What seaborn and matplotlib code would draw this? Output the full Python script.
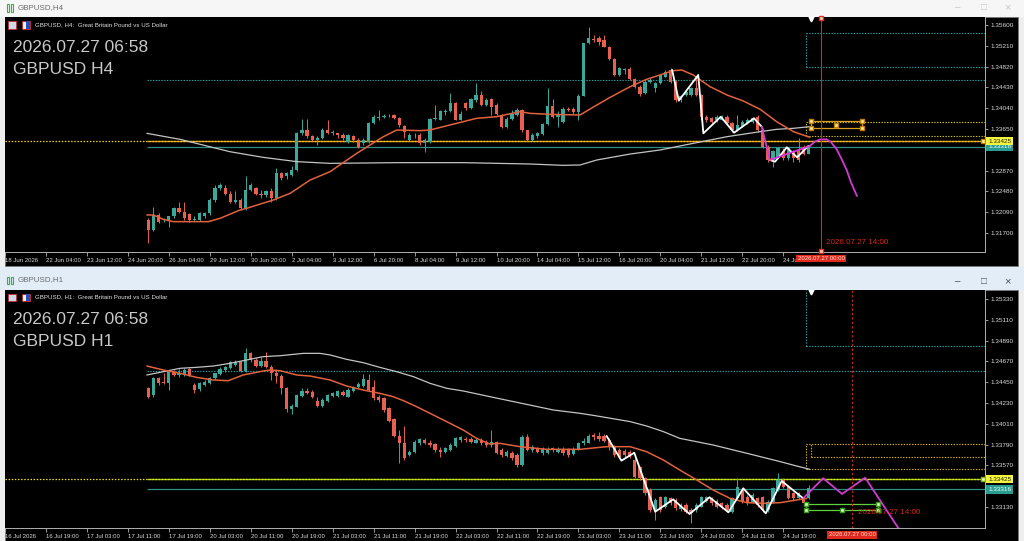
import numpy as np
import pandas as pd
import matplotlib
matplotlib.use("Agg")
import matplotlib.pyplot as plt
from matplotlib.patches import Rectangle
from matplotlib.transforms import Bbox, TransformedBbox
import seaborn as sns

# ---------------- DATA ----------------
# H4 candles (upper window)
h4_open = [1.3194,1.3176,1.3204,1.3194,1.3194,1.3201,1.3216,1.3210,1.3206,1.3194,
           1.3194,1.3201,1.3207,1.3232,1.3254,1.3254,1.3244,1.3229,1.3232,1.3216,
           1.3251,1.3254,1.3244,1.3241,1.3248,1.3235,1.3282,1.3276,1.3279,1.3288,
           1.3357,1.3364,1.3352,1.3344,1.3348,1.3364,1.3358,1.3357,1.3354,1.3341,
           1.3351,1.3344,1.3338,1.3341,1.3376,1.3385,1.3388,1.3389,1.3391,1.3385,
           1.3371,1.3344,1.3353,1.3354,1.3338,1.3341,1.3384,1.3382,1.3396,1.3398,
           1.3413,1.3382,1.3413,1.3404,1.3419,1.3429,1.3410,1.3421,1.3410,1.3391,
           1.3369,1.3383,1.3391,1.3401,1.3363,1.3344,1.3351,1.3356,1.3374,1.3408,
           1.3388,1.3379,1.3403,1.3402,1.3396,1.3427,1.3526,1.3533,1.3535,1.3531,
           1.3519,1.3496,1.3466,1.3476,1.3477,1.3458,1.3444,1.3432,1.3454,1.3441,
           1.3451,1.3463,1.3476,1.3454,1.3419,1.3429,1.3429,1.3441,1.3429,1.3388,
           1.3385,1.3382,1.3382,1.3388,1.3376,1.3363,1.3371,1.3376,1.3379,1.3387,
           1.3363,1.3332,1.3307,1.3313,1.3323,1.3310,1.3323,1.3326,1.3332,1.3319]
h4_high = [1.3198,1.3218,1.3207,1.3199,1.3202,1.3218,1.3229,1.3229,1.3208,1.3201,
           1.3210,1.3210,1.3235,1.3260,1.3263,1.3260,1.3248,1.3248,1.3235,1.3276,
           1.3263,1.3257,1.3251,1.3251,1.3254,1.3291,1.3285,1.3285,1.3296,1.3360,
           1.3383,1.3383,1.3354,1.3351,1.3366,1.3381,1.3363,1.3358,1.3357,1.3356,
           1.3354,1.3348,1.3348,1.3379,1.3391,1.3401,1.3394,1.3393,1.3393,1.3388,
           1.3373,1.3357,1.3357,1.3357,1.3348,1.3385,1.3410,1.3401,1.3402,1.3432,
           1.3416,1.3398,1.3416,1.3424,1.3451,1.3437,1.3423,1.3423,1.3413,1.3394,
           1.3388,1.3401,1.3404,1.3402,1.3364,1.3357,1.3360,1.3377,1.3441,1.3421,
           1.3398,1.3406,1.3407,1.3406,1.3431,1.3527,1.3557,1.3541,1.3539,1.3541,
           1.3521,1.3498,1.3482,1.3479,1.3482,1.3460,1.3448,1.3457,1.3460,1.3454,
           1.3469,1.3476,1.3479,1.3457,1.3429,1.3438,1.3444,1.3463,1.3431,1.3391,
           1.3388,1.3391,1.3391,1.3391,1.3379,1.3391,1.3382,1.3385,1.3388,1.3391,
           1.3366,1.3335,1.3326,1.3332,1.3329,1.3332,1.3326,1.3348,1.3335,1.3335]
h4_low = [1.3152,1.3174,1.3189,1.3191,1.3182,1.3199,1.3208,1.3194,1.3191,1.3193,
          1.3193,1.3198,1.3204,1.3229,1.3251,1.3241,1.3227,1.3226,1.3213,1.3214,
          1.3248,1.3241,1.3235,1.3238,1.3229,1.3232,1.3269,1.3271,1.3276,1.3287,
          1.3354,1.3348,1.3343,1.3335,1.3346,1.3356,1.3354,1.3348,1.3344,1.3339,
          1.3341,1.3329,1.3335,1.3339,1.3374,1.3382,1.3385,1.3387,1.3383,1.3369,
          1.3348,1.3343,1.3348,1.3335,1.3321,1.3339,1.3382,1.3381,1.3391,1.3396,
          1.3381,1.3381,1.3401,1.3402,1.3416,1.3408,1.3408,1.3391,1.3391,1.3366,
          1.3366,1.3382,1.3389,1.3360,1.3343,1.3343,1.3349,1.3354,1.3373,1.3385,
          1.3369,1.3377,1.3398,1.3393,1.3382,1.3426,1.3524,1.3529,1.3523,1.3518,
          1.3494,1.3464,1.3464,1.3469,1.3456,1.3441,1.3427,1.3431,1.3451,1.3435,
          1.3449,1.3462,1.3452,1.3416,1.3416,1.3427,1.3427,1.3427,1.3382,1.3379,
          1.3376,1.3379,1.3381,1.3373,1.3360,1.3361,1.3369,1.3374,1.3377,1.3360,
          1.3329,1.3304,1.3294,1.3310,1.3307,1.3307,1.3304,1.3304,1.3316,1.3318]
h4_close = [1.3176,1.3204,1.3191,1.3196,1.3201,1.3216,1.3210,1.3198,1.3194,1.3196,
            1.3207,1.3207,1.3232,1.3254,1.3260,1.3244,1.3229,1.3232,1.3216,1.3251,
            1.3260,1.3244,1.3241,1.3248,1.3235,1.3282,1.3273,1.3282,1.3288,1.3357,
            1.3364,1.3351,1.3344,1.3348,1.3364,1.3357,1.3359,1.3354,1.3348,1.3354,
            1.3344,1.3332,1.3344,1.3376,1.3388,1.3388,1.3389,1.3390,1.3385,1.3373,
            1.3360,1.3354,1.3354,1.3338,1.3344,1.3383,1.3386,1.3398,1.3399,1.3413,
            1.3382,1.3394,1.3404,1.3421,1.3429,1.3410,1.3419,1.3407,1.3394,1.3369,
            1.3383,1.3394,1.3401,1.3363,1.3344,1.3354,1.3357,1.3374,1.3408,1.3388,
            1.3394,1.3402,1.3401,1.3396,1.3427,1.3526,1.3535,1.3532,1.3529,1.3519,
            1.3496,1.3466,1.3479,1.3478,1.3458,1.3444,1.3431,1.3454,1.3457,1.3451,
            1.3466,1.3471,1.3454,1.3419,1.3426,1.3435,1.3441,1.3429,1.3388,1.3382,
            1.3379,1.3388,1.3388,1.3376,1.3363,1.3373,1.3379,1.3382,1.3385,1.3363,
            1.3332,1.3307,1.3323,1.3329,1.3310,1.3329,1.3310,1.3307,1.3319,1.3332]

# H1 candles (lower window)
h1_open = [1.34385,1.34314,1.34491,1.34448,1.34438,1.34561,1.34526,1.34537,1.34586,1.34420,
           1.34374,1.34420,1.34438,1.34491,1.34537,1.34579,1.34596,1.34632,1.34667,1.34572,
           1.34755,1.34685,1.34621,1.34678,1.34614,1.34551,1.34515,1.34385,1.34163,1.34191,
           1.34304,1.34360,1.34350,1.34255,1.34198,1.34255,1.34304,1.34304,1.34350,1.34297,
           1.34360,1.34396,1.34409,1.34473,1.34403,1.34297,1.34279,1.34173,1.34057,1.33881,
           1.33810,1.33680,1.33715,1.33803,1.33839,1.33810,1.33796,1.33733,1.33715,1.33733,
           1.33775,1.33839,1.33853,1.33846,1.33810,1.33839,1.33821,1.33786,1.33821,1.33733,
           1.33669,1.33705,1.33680,1.33574,1.33874,1.33733,1.33751,1.33698,1.33705,1.33751,
           1.33715,1.33740,1.33733,1.33691,1.33740,1.33803,1.33810,1.33892,1.33881,1.33881,
           1.33839,1.33768,1.33733,1.33726,1.33715,1.33627,1.33550,1.33433,1.33310,1.33098,
           1.33232,1.33134,1.33222,1.33204,1.33105,1.33151,1.33098,1.33098,1.33134,1.33197,
           1.33211,1.33197,1.33169,1.33151,1.33081,1.33222,1.33310,1.33239,1.33186,1.33222,
           1.33232,1.33098,1.33186,1.33310,1.33416,1.33345,1.33275,1.33222,1.33222,1.33222]
h1_high = [1.34403,1.34508,1.34508,1.34544,1.34579,1.34579,1.34586,1.34596,1.34596,1.34438,
           1.34456,1.34473,1.34508,1.34551,1.34614,1.34621,1.34678,1.34685,1.34678,1.34808,
           1.34773,1.34702,1.34720,1.34773,1.34632,1.34579,1.34537,1.34396,1.34219,1.34325,
           1.34385,1.34385,1.34367,1.34297,1.34279,1.34325,1.34350,1.34367,1.34367,1.34385,
           1.34409,1.34456,1.34537,1.34537,1.34473,1.34314,1.34297,1.34191,1.34068,1.33944,
           1.33987,1.33733,1.33839,1.33856,1.33856,1.33839,1.33810,1.33761,1.33768,1.33803,
           1.33874,1.33881,1.33867,1.33867,1.33856,1.33856,1.33839,1.33944,1.33832,1.33751,
           1.33733,1.33726,1.33698,1.33892,1.33902,1.33786,1.33768,1.33761,1.33761,1.33768,
           1.33761,1.33761,1.33751,1.33761,1.33821,1.33856,1.33902,1.33909,1.33927,1.33902,
           1.33856,1.33786,1.33751,1.33740,1.33733,1.33645,1.33564,1.33451,1.33327,1.33222,
           1.33246,1.33246,1.33239,1.33222,1.33169,1.33169,1.33116,1.33169,1.33246,1.33246,
           1.33232,1.33211,1.33186,1.33169,1.33239,1.33433,1.33327,1.33257,1.33275,1.33239,
           1.33246,1.33204,1.33345,1.33486,1.33433,1.33363,1.33292,1.33292,1.33246,1.33363]
h1_low = [1.34279,1.34297,1.34420,1.34431,1.34367,1.34515,1.34508,1.34515,1.34515,1.34332,
          1.34360,1.34409,1.34427,1.34480,1.34526,1.34561,1.34586,1.34621,1.34561,1.34561,
          1.34667,1.34607,1.34607,1.34596,1.34473,1.34438,1.34325,1.34138,1.34114,1.34184,
          1.34297,1.34325,1.34279,1.34191,1.34191,1.34244,1.34297,1.34297,1.34304,1.34290,
          1.34350,1.34385,1.34403,1.34360,1.34262,1.34244,1.34138,1.34032,1.33874,1.33592,
          1.33627,1.33669,1.33705,1.33786,1.33796,1.33768,1.33715,1.33655,1.33705,1.33726,
          1.33768,1.33821,1.33821,1.33810,1.33803,1.33786,1.33768,1.33768,1.33687,1.33662,
          1.33655,1.33627,1.33557,1.33564,1.33726,1.33715,1.33698,1.33680,1.33691,1.33715,
          1.33705,1.33680,1.33662,1.33680,1.33733,1.33786,1.33803,1.33839,1.33832,1.33821,
          1.33733,1.33662,1.33645,1.33662,1.33645,1.33433,1.33416,1.33257,1.33081,1.32993,
          1.33081,1.33116,1.33151,1.33098,1.33091,1.33070,1.32957,1.33081,1.33127,1.33186,
          1.33151,1.33116,1.33105,1.33081,1.33070,1.33211,1.33176,1.33151,1.33169,1.33134,
          1.33081,1.33081,1.33176,1.33303,1.33327,1.33211,1.33204,1.33211,1.33162,1.33211]
h1_close = [1.34297,1.34491,1.34438,1.34438,1.34561,1.34526,1.34544,1.34579,1.34526,1.34367,
            1.34438,1.34456,1.34498,1.34544,1.34586,1.34607,1.34660,1.34667,1.34572,1.34755,
            1.34685,1.34621,1.34678,1.34614,1.34544,1.34515,1.34385,1.34163,1.34198,1.34314,
            1.34360,1.34339,1.34297,1.34198,1.34262,1.34314,1.34339,1.34357,1.34314,1.34367,
            1.34396,1.34431,1.34480,1.34367,1.34279,1.34262,1.34156,1.34043,1.33881,1.33803,
            1.33645,1.33715,1.33821,1.33846,1.33810,1.33786,1.33733,1.33715,1.33750,1.33786,
            1.33856,1.33867,1.33839,1.33821,1.33839,1.33803,1.33786,1.33821,1.33698,1.33680,
            1.33715,1.33645,1.33574,1.33874,1.33733,1.33768,1.33715,1.33740,1.33740,1.33733,
            1.33740,1.33698,1.33680,1.33740,1.33810,1.33832,1.33881,1.33867,1.33846,1.33832,
            1.33768,1.33680,1.33662,1.33680,1.33662,1.33451,1.33433,1.33275,1.33098,1.33204,
            1.33098,1.33232,1.33169,1.33116,1.33151,1.33081,1.33063,1.33151,1.33232,1.33232,
            1.33169,1.33134,1.33127,1.33098,1.33222,1.33338,1.33186,1.33169,1.33257,1.33151,
            1.33098,1.33186,1.33327,1.33416,1.33345,1.33222,1.33222,1.33275,1.33169,1.33327]

# moving averages and zigzags (bar index, price)
h4_ma_fast_x = [27.7,29.0,30.9,32.9,39.7,42.0,45.9,47.2,52.4,55.7,59.6,63.5,68.7,71.3,73.9,76.5,81.1,83.0,89.5,92.1,96.0,100.6,102.5,106.4,112.3,115.6,118.2,122.1,125.3,127.9,130.5,132.2,134.4,137.7,141.0,144.2,147.5,150.7,154.0,157.2]
h4_ma_fast_y = [1.32038,1.32038,1.31956,1.31913,1.31913,1.31975,1.32131,1.32163,1.32319,1.32444,1.32694,1.32850,1.33194,1.33350,1.33506,1.33631,1.33619,1.33631,1.33788,1.33850,1.33881,1.33975,1.33944,1.33925,1.33913,1.34100,1.34244,1.34444,1.34581,1.34663,1.34744,1.34756,1.34663,1.34444,1.34288,1.34175,1.34019,1.33788,1.33600,1.33494]
h4_ma_slow_x = [27.7,34.2,43.9,50.4,57.0,63.5,76.5,89.5,102.5,109.0,112.3,115.6,122.1,127.9,134.4,141.0,147.5,150.7,154.0,157.2]
h4_ma_slow_y = [1.33569,1.33456,1.33225,1.33119,1.33038,1.33006,1.33019,1.33019,1.32994,1.32969,1.32975,1.33069,1.33181,1.33256,1.33381,1.33506,1.33600,1.33644,1.33663,1.33694]
h4_zz1_x = [130.3,131.6,135.4,136.4,139.8,142.4,146.3,147.8]
h4_zz1_y = [1.34756,1.34181,1.34663,1.33569,1.33881,1.33581,1.33851,1.33693]
h4_zz2_x = [149.4,150.4,152.7,154.7,156.9]
h4_zz2_y = [1.33069,1.33037,1.33307,1.33119,1.33331]
h4_proj1_x = [147.8,149.4,157.2]
h4_proj1_y = [1.33693,1.33069,1.33331]
h4_proj2_x = [157.2,158.2,159.2,160.4,161.3,162.4,163.3,164.4,165.2,166.4]
h4_proj2_y = [1.33331,1.33416,1.33453,1.33457,1.33406,1.33275,1.33106,1.32881,1.32656,1.32394]

h1_ma_fast_x = [27.7,30.9,34.2,37.4,40.7,43.6,46.5,50.4,51.8,53.7,57.0,59.6,63.5,66.7,70.0,73.2,75.8,77.8,80.4,83.0,86.3,89.5,92.1,94.7,96.7,100.6,105.8,112.3,117.5,122.1,125.3,128.6,131.8,135.1,138.3,141.6,144.9,148.1,151.4,154.6,156.6]
h1_ma_fast_y = [1.34621,1.34579,1.34544,1.34501,1.34473,1.34466,1.34526,1.34568,1.34579,1.34572,1.34526,1.34515,1.34473,1.34410,1.34367,1.34332,1.34297,1.34255,1.34191,1.34121,1.34032,1.33944,1.33856,1.33796,1.33803,1.33768,1.33740,1.33740,1.33768,1.33768,1.33715,1.33627,1.33521,1.33416,1.33310,1.33222,1.33176,1.33169,1.33176,1.33204,1.33222]
h1_ma_slow_x = [27.7,30.9,34.2,37.4,40.7,43.9,47.2,50.4,53.7,57.0,58.3,61.5,63.5,66.7,70.0,73.2,76.5,79.8,83.0,86.3,89.5,94.7,107.1,112.3,115.6,122.1,125.3,128.6,131.8,138.3,144.9,151.4,154.6,157.2]
h1_ma_slow_y = [1.34526,1.34561,1.34597,1.34607,1.34621,1.34649,1.34685,1.34720,1.34730,1.34748,1.34755,1.34755,1.34738,1.34692,1.34656,1.34607,1.34561,1.34508,1.34438,1.34385,1.34357,1.34297,1.34156,1.34121,1.34093,1.34033,1.33987,1.33927,1.33856,1.33786,1.33698,1.33610,1.33564,1.33528]
h1_zz_x = [117.5,120.4,122.9,127.0,130.5,133.7,137.6,141.3,144.2,148.6,151.7,155.9]
h1_zz_y = [1.33881,1.33620,1.33704,1.33080,1.33211,1.33056,1.33233,1.33074,1.33328,1.33063,1.33405,1.33222]
h1_proj_x = [155.9,159.8,163.5,168.0,174.5]
h1_proj_y = [1.33222,1.33434,1.33268,1.33440,1.32905]

# levels
level_bid = 1.33425
level_last = 1.33316
level_res = 1.34568
h4_zone_top = [1.35444, 1.34818]
h4_zone_mid = [1.33776, 1.33524]
h4_box = [1.33806, 1.33669]
h1_zone_top = 1.34833
h1_zone_mid = [1.33796, 1.33662, 1.33532]
h1_box = [1.33158, 1.33098]

h4_yticks = [1.35600,1.35210,1.34820,1.34430,1.34040,1.33650,1.33260,1.32870,1.32480,1.32090,1.31700]
h1_yticks = [1.35330,1.35110,1.34890,1.34670,1.34450,1.34230,1.34010,1.33790,1.33570,1.33350,1.33130]
h4_hidden_tick = 1.33260   # covered by the price tags in the terminal
h1_hidden_tick = 1.33350
h4_xlabels = ["18 Jun 2026","22 Jun 04:00","23 Jun 12:00","24 Jun 20:00","26 Jun 04:00","29 Jun 12:00",
              "30 Jun 20:00","2 Jul 04:00","3 Jul 12:00","6 Jul 20:00","8 Jul 04:00","9 Jul 12:00",
              "10 Jul 20:00","14 Jul 04:00","15 Jul 12:00","16 Jul 20:00","20 Jul 04:00","21 Jul 12:00",
              "22 Jul 20:00","24 Jul 04:00"]
h1_xlabels = ["16 Jul 2026","16 Jul 19:00","17 Jul 03:00","17 Jul 11:00","17 Jul 19:00","20 Jul 03:00",
              "20 Jul 11:00","20 Jul 19:00","21 Jul 03:00","21 Jul 11:00","21 Jul 19:00","22 Jul 03:00",
              "22 Jul 11:00","22 Jul 19:00","23 Jul 03:00","23 Jul 11:00","23 Jul 19:00","24 Jul 03:00",
              "24 Jul 11:00","24 Jul 19:00"]

# ---------------- STYLE ----------------
sns.set_theme(style="dark")
plt.rcParams['font.family'] = ['Liberation Sans', 'DejaVu Sans']

UP = '#3aa99b'
DN = '#e8604f'
TEAL = '#1fa3a8'
W, H = 1024, 541
FIRST_BAR = 28
XMAX = 980 / 5.12

def fx(x): return x / W
def fy(y): return 1 - y / H

fig = plt.figure(figsize=(10.24, 5.41), dpi=100)
fig.patch.set_facecolor('#eeeeee')

def frect(x0, y0, x1, y1, fc, ec='none', lw=0.0, z=-5):
    fig.add_artist(Rectangle((fx(x0), fy(y1)), (x1 - x0) / W, (y1 - y0) / H,
                             transform=fig.transFigure, facecolor=fc, edgecolor=ec, lw=lw, zorder=z))

# window chrome
frect(0, 0, 1024, 16.5, '#f6f6f6')
frect(5, 16.5, 1018, 266, 'black', '#7a7a7a', 0.6)
frect(0, 267, 1024, 290, '#e2edf8')
frect(5, 290, 1018, 541, 'black', '#7a7a7a', 0.6)

for (ty, name) in [(8, 'GBPUSD,H4'), (280, 'GBPUSD,H1')]:
    fig.add_artist(Rectangle((fx(7), fy(ty + 3.5)), 2.2 / W, 7 / H, transform=fig.transFigure,
                             facecolor='none', edgecolor='#3cb043', lw=0.8))
    fig.add_artist(Rectangle((fx(10.5), fy(ty + 3.5)), 2.2 / W, 7 / H, transform=fig.transFigure,
                             facecolor='none', edgecolor='#3cb043', lw=0.8))
    fig.text(fx(18), fy(ty), name, fontsize=5.8, color='#6a6a6a', va='center', ha='left')
for (by, col) in [(7, '#c8c8c8'), (281, '#505050')]:
    fig.text(fx(958), fy(by), '\u2013', fontsize=7, color=col, ha='center', va='center')
    fig.text(fx(984), fy(by), '\u25a1', fontsize=7, color=col, ha='center', va='center')
    fig.text(fx(1007), fy(by), '\u00d7', fontsize=8, color=col, ha='center', va='center')

def header(y0, tf):
    fig.add_artist(Rectangle((fx(8), fy(y0 + 3.5)), 8 / W, 7 / H, transform=fig.transFigure,
                             facecolor='#d0d8e8', edgecolor='#c03030', lw=0.6, zorder=4))
    fig.add_artist(Rectangle((fx(22), fy(y0 + 3.5)), 8 / W, 7 / H, transform=fig.transFigure,
                             facecolor='#f0f0f0', edgecolor='#c02020', lw=0.6, zorder=4))
    fig.add_artist(Rectangle((fx(26), fy(y0 + 3.5)), 4 / W, 7 / H, transform=fig.transFigure,
                             facecolor='#2050c0', edgecolor='none', zorder=4))
    fig.text(fx(35), fy(y0), f"GBPUSD, {tf}:  Great Britain Pound vs US Dollar",
             fontsize=4.4, color='#e0e0e0', va='center', ha='left')
    fig.text(fx(13), fy(y0 + 22), "2026.07.27 06:58", fontsize=12.5, color='#c8c8c8', va='center', ha='left')
    fig.text(fx(13), fy(y0 + 44), f"GBPUSD {tf}", fontsize=12.5, color='#c8c8c8', va='center', ha='left')

header(25, 'H4')
header(297, 'H1')

def setup_axes(rect, ylim, yticks, hidden, xlabels):
    ax = fig.add_axes(rect)
    ax.set_facecolor('black')
    ax.set_xlim(0, XMAX)
    ax.set_ylim(*ylim)
    ax.grid(False)
    for s in ['left', 'top']:
        ax.spines[s].set_visible(False)
    for s in ['right', 'bottom']:
        ax.spines[s].set_color('#b0b0b0')
        ax.spines[s].set_linewidth(0.7)
    ax.yaxis.tick_right()
    ax.set_yticks(yticks)
    ax.set_yticklabels(['' if abs(v - hidden) < 1e-7 else f"{v:.5f}" for v in yticks])
    ax.set_xticks(np.arange(len(xlabels)) * 8)
    ax.set_xticklabels(xlabels)
    ax.tick_params(axis='y', colors='#b0b0b0', labelcolor='#dadada', labelsize=4.6,
                   length=2.5, width=0.6, pad=1.5, right=True, left=False)
    ax.tick_params(axis='x', colors='#b0b0b0', labelcolor='#dadada', labelsize=4.3,
                   length=3, width=0.6, pad=1.5, bottom=True)
    for t in ax.get_xticklabels():
        t.set_horizontalalignment('left')
    return ax

def candles(ax, o, h, l, c, min_h):
    df = pd.DataFrame({'open': o, 'high': h, 'low': l, 'close': c})
    df['bar'] = np.arange(len(df)) + FIRST_BAR
    cols = np.where(df['close'] >= df['open'], UP, DN)
    ax.vlines(df['bar'], df['low'], df['high'], colors=cols, lw=0.7, zorder=3)
    bottom = np.minimum(df['open'], df['close'])
    height = np.maximum((df['close'] - df['open']).abs(), min_h)
    ax.bar(df['bar'], height, bottom=bottom, width=0.64, color=cols, linewidth=0, zorder=4)

def line(ax, xs, ys, color, lw, z=5):
    d = pd.DataFrame({'bar': xs, 'price': ys})
    sns.lineplot(data=d, x='bar', y='price', ax=ax, color=color, linewidth=lw,
                 estimator=None, sort=False, zorder=z)
    ax.set_xlabel('')
    ax.set_ylabel('')

DOT = (0, (1.2, 1.3))
handle = dict(marker='s', ms=2.6, mec='#c08000', mfc='#ffe9a0', ls='none', zorder=9)

# ================= TOP (H4) =================
ax1 = setup_axes([fx(5), fy(252), 980 / W, 235 / H], (1.31344, 1.3575), h4_yticks, h4_hidden_tick, h4_xlabels)
x_start = FIRST_BAR - 0.3
ax1.hlines(level_res, x_start, XMAX, colors=TEAL, lw=0.8, linestyles=[DOT], zorder=2)
ax1.hlines(h4_zone_top, 156.4, XMAX, colors=TEAL, lw=0.8, linestyles=[DOT], zorder=2)
ax1.vlines(156.4, h4_zone_top[1], h4_zone_top[0], colors=TEAL, lw=0.8, linestyles=[DOT], zorder=2)
ax1.hlines(level_bid, x_start, XMAX, colors='#e8961c', lw=1.0, zorder=2)
ax1.hlines(level_bid, 0, XMAX, colors='#f2d21e', lw=0.9, linestyles=[DOT], zorder=2)
ax1.hlines(level_last, x_start, XMAX, colors='#2c8c86', lw=0.9, zorder=2)
ax1.hlines(h4_zone_mid, 156.4, XMAX, colors='#d8c21a', lw=0.8, linestyles=[DOT], zorder=2)
ax1.vlines(156.4, h4_zone_mid[1], h4_zone_mid[0], colors='#d8c21a', lw=0.8, linestyles=[DOT], zorder=2)
ax1.add_patch(Rectangle((157.4, h4_box[1]), 10.0, h4_box[0] - h4_box[1], facecolor='none',
                        edgecolor='#d9a21e', lw=0.9, zorder=6))
ax1.plot([157.4, 167.4, 157.4, 167.4, 162.4], [h4_box[0], h4_box[0], h4_box[1], h4_box[1], 1.33731], **handle)
ax1.plot([191.0], [level_bid], marker='s', ms=3, mec='#c08000', mfc='#fff6c0', ls='none', zorder=9, clip_on=False)

line(ax1, h4_ma_slow_x, h4_ma_slow_y, '#c4c4c4', 0.9)
line(ax1, h4_ma_fast_x, h4_ma_fast_y, '#e2623e', 1.1)
candles(ax1, h4_open, h4_high, h4_low, h4_close, 0.00004)
line(ax1, h4_zz1_x, h4_zz1_y, '#ffffff', 1.3, 7)
line(ax1, h4_zz2_x, h4_zz2_y, '#ffffff', 1.3, 7)
line(ax1, h4_proj1_x, h4_proj1_y, '#d23ad2', 1.3, 7)
line(ax1, h4_proj2_x, h4_proj2_y, '#d23ad2', 1.3, 7)

ax1.axvline(159.4, color='#d02a1c', lw=0.8, zorder=8)
ax1.plot([159.4, 159.4], [1.3574, 1.3136], marker='s', ms=2.4, mec='#e03020', mfc='#ffd0c0',
         ls='none', zorder=9, clip_on=False)
ax1.plot([157.4], [1.3572], marker='v', ms=3.5, color='white', ls='none', zorder=9)
ax1.text(160.4, 1.31531, "2026.07.27 14:00", color='#d42a1a', fontsize=5.8, va='center', ha='left', zorder=9)

# ================= BOTTOM (H1) =================
ax2 = setup_axes([fx(5), fy(528), 980 / W, 238 / H], (1.32908, 1.35425), h1_yticks, h1_hidden_tick, h1_xlabels)
ax2.hlines(level_res, x_start, XMAX, colors=TEAL, lw=0.8, linestyles=[DOT], zorder=2)
ax2.hlines(h1_zone_top, 156.4, XMAX, colors=TEAL, lw=0.8, linestyles=[DOT], zorder=2)
ax2.vlines(156.4, h1_zone_top, 1.35425, colors=TEAL, lw=0.8, linestyles=[DOT], zorder=2)
ax2.hlines([h1_zone_mid[0], h1_zone_mid[2]], 156.4, XMAX, colors='#d8b41a', lw=0.8, linestyles=[DOT], zorder=2)
ax2.hlines(h1_zone_mid[1], 157.4, XMAX, colors='#d8b41a', lw=0.8, linestyles=[DOT], zorder=2)
ax2.vlines(156.4, h1_zone_mid[2], h1_zone_mid[0], colors='#d8b41a', lw=0.8, linestyles=[DOT], zorder=2)
ax2.vlines(157.4, h1_zone_mid[1], h1_zone_mid[0], colors='#d8b41a', lw=0.8, linestyles=[DOT], zorder=2)
ax2.hlines(level_bid, x_start, XMAX, colors='#8fd01c', lw=1.0, zorder=2)
ax2.hlines(level_bid, 0, XMAX, colors='#f2e020', lw=0.9, linestyles=[DOT], zorder=2)
ax2.hlines(level_last, x_start, XMAX, colors='#2c8c86', lw=0.9, zorder=2)
ax2.add_patch(Rectangle((156.4, h1_box[1]), 14.2, h1_box[0] - h1_box[1], facecolor='none',
                        edgecolor='#5fd43a', lw=0.9, zorder=6))
ax2.plot([156.4, 170.6, 156.4, 170.6, 163.5], [h1_box[0], h1_box[0], h1_box[1], h1_box[1], h1_box[1]],
         marker='s', ms=2.6, mec='#3a9a20', mfc='#d8ffc0', ls='none', zorder=9)
ax2.plot([191.0], [level_bid], marker='s', ms=3, mec='#80b020', mfc='#eaffc0', ls='none', zorder=9, clip_on=False)

line(ax2, h1_ma_slow_x, h1_ma_slow_y, '#c4c4c4', 0.9)
line(ax2, h1_ma_fast_x, h1_ma_fast_y, '#e2623e', 1.1)
candles(ax2, h1_open, h1_high, h1_low, h1_close, 0.00002)
line(ax2, h1_zz_x, h1_zz_y, '#ffffff', 1.3, 7)
line(ax2, h1_proj_x, h1_proj_y, '#d23ad2', 1.3, 7)

ax2.axvline(165.5, color='#c8261a', lw=0.8, ls=(0, (2, 2)), zorder=8)
ax2.plot([157.4], [1.35405], marker='v', ms=3.5, color='white', ls='none', zorder=9)
ax2.text(166.6, 1.3307, "2026.07.27 14:00", color='#d42a1a', fontsize=5.8, va='center', ha='left', zorder=9)

# price tags on the right scale
def tag(ax, price, text, fc, tc):
    ax.annotate(text, xy=(1.0, price), xycoords=('axes fraction', 'data'),
                xytext=(2.2, 0), textcoords='offset points', fontsize=4.6, color=tc,
                va='center', ha='left', zorder=10, annotation_clip=False,
                bbox=dict(boxstyle='square,pad=0.25', fc=fc, ec='none'))

for ax in (ax1, ax2):
    tag(ax, level_last, f"{level_last:.5f}", '#2a9d90', '#f0ffff')
    tag(ax, level_bid, f"{level_bid:.5f}", '#f4f43c', '#202020')

# last time label of the H4 scale is partly covered by the current-time box
last_lbl = ax1.get_xticklabels()[-1]
last_lbl.set_clip_on(True)
last_lbl.set_clip_box(TransformedBbox(Bbox([[fx(780), fy(266)], [fx(796), fy(252)]]), fig.transFigure))

# red time boxes on the time scale
fig.text(fx(821), fy(258.5), "2026.07.27 00:00", fontsize=4.3, color='#ffe0d8', ha='center', va='center',
         bbox=dict(boxstyle='square,pad=0.25', fc='#e0281c', ec='none'), zorder=10)
fig.text(fx(852), fy(535), "2026.07.27 00:00", fontsize=4.3, color='#ffe0d8', ha='center', va='center',
         bbox=dict(boxstyle='square,pad=0.25', fc='#e0281c', ec='none'), zorder=10)

fig.savefig("out.png", dpi=100, facecolor=fig.get_facecolor())
